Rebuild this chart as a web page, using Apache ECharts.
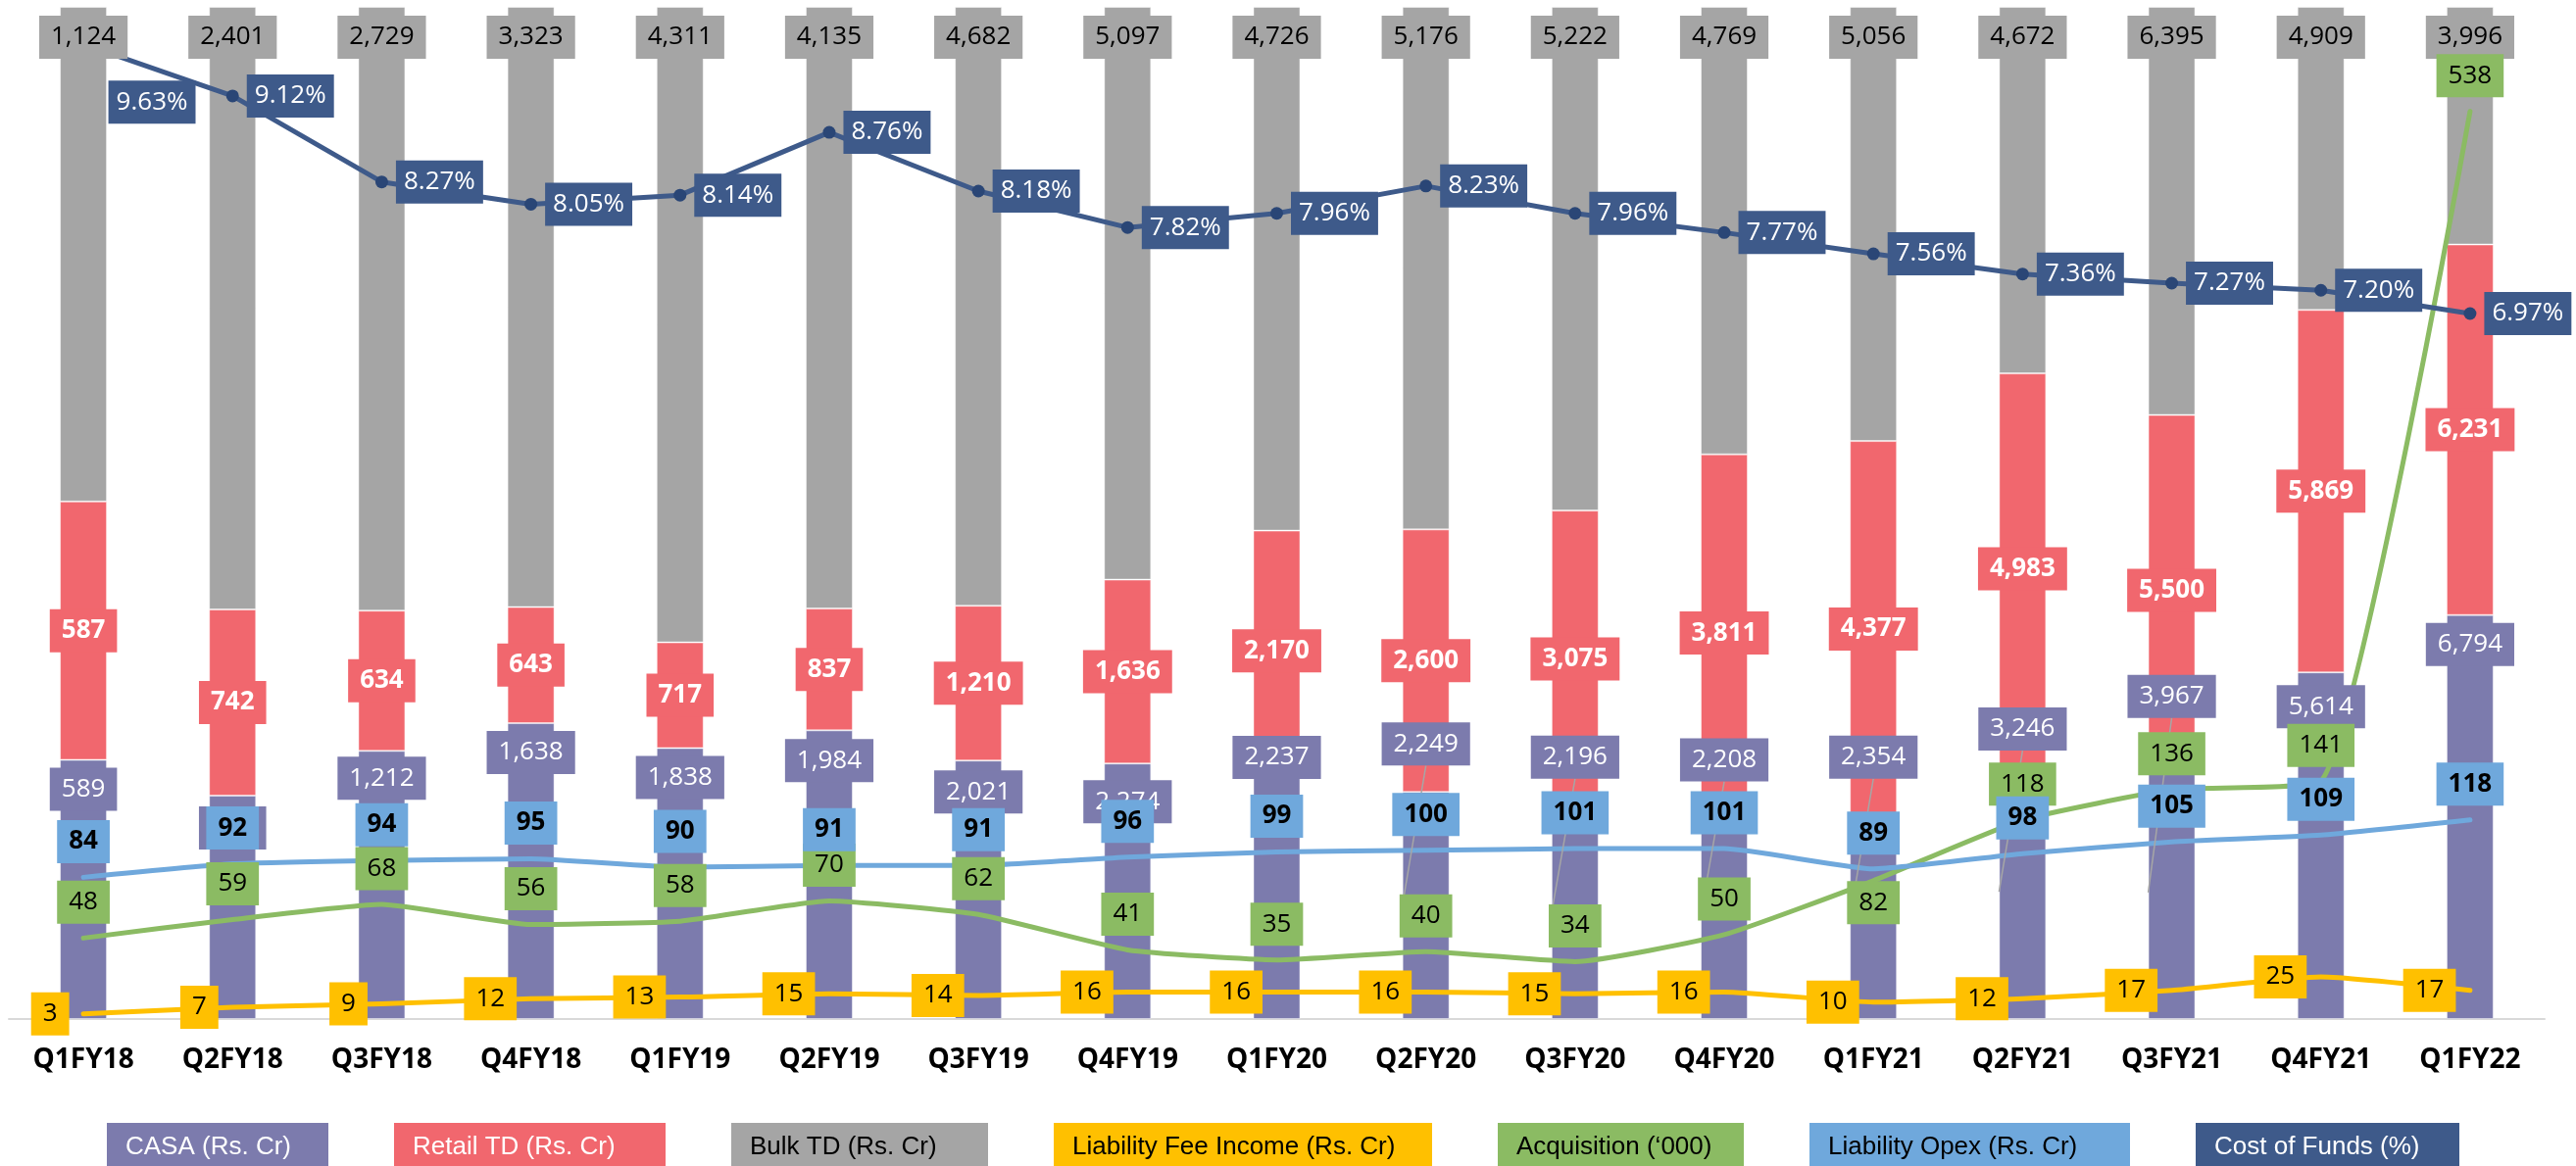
<!DOCTYPE html>
<html>
<head>
<meta charset="utf-8">
<script src="https://cdn.jsdelivr.net/npm/echarts@6/dist/echarts.min.js"></script>
<style>
  html, body { margin: 0; padding: 0; background: #fff; }
  #chart { width: 2628px; height: 1190px; }
</style>
</head>
<body>
<div id="chart"></div>
<script>
const categories = ['Q1FY18','Q2FY18','Q3FY18','Q4FY18','Q1FY19','Q2FY19','Q3FY19','Q4FY19','Q1FY20','Q2FY20','Q3FY20','Q4FY20','Q1FY21','Q2FY21','Q3FY21','Q4FY21','Q1FY22'];
const casa        = [589, 890, 1212, 1638, 1838, 1984, 2021, 2274, 2237, 2249, 2196, 2208, 2354, 3246, 3967, 5614, 6794];
const retailTD    = [587, 742, 634, 643, 717, 837, 1210, 1636, 2170, 2600, 3075, 3811, 4377, 4983, 5500, 5869, 6231];
const bulkTD      = [1124, 2401, 2729, 3323, 4311, 4135, 4682, 5097, 4726, 5176, 5222, 4769, 5056, 4672, 6395, 4909, 3996];
const feeIncome   = [3, 7, 9, 12, 13, 15, 14, 16, 16, 16, 15, 16, 10, 12, 17, 25, 17];
const acquisition = [48, 59, 68, 56, 58, 70, 62, 41, 35, 40, 34, 50, 82, 118, 136, 141, 538];
const opex        = [84, 92, 94, 95, 90, 91, 91, 96, 99, 100, 101, 101, 89, 98, 105, 109, 118];
const costOfFunds = [9.63, 9.12, 8.27, 8.05, 8.14, 8.76, 8.18, 7.82, 7.96, 8.23, 7.96, 7.77, 7.56, 7.36, 7.27, 7.20, 6.97];

const names = ['CASA (Rs. Cr)', 'Retail TD (Rs. Cr)', 'Bulk TD (Rs. Cr)', 'Liability Fee Income (Rs. Cr)', 'Acquisition (\u2018000)', 'Liability Opex (Rs. Cr)', 'Cost of Funds (%)'];

const C = {
  casa: '#7C7BAD', retail: '#F1676E', bulk: '#A5A5A5', fee: '#FFC000',
  acq: '#8BBB63', opex: '#6FA8DC', cof: '#3E5A8A', cofDot: '#2A4676'
};

const totals = categories.map((_, i) => casa[i] + retailTD[i] + bulkTD[i]);
const pct = arr => arr.map((v, i) => ({ value: v / totals[i] * 100, raw: v }));
const fmt = v => v.toLocaleString('en-US');

const FONT = 'Open Sans';
const LABEL_H = 26 + 18; // label box height (lineHeight + padding)
const baseLabel = { show: true, fontFamily: FONT, fontSize: 26, lineHeight: 26, padding: [9, 12] };

// label nudges (style only) for CASA labels that were moved in the original
const casaNudge = { 1: 3, 2: -2, 5: 1, 6: 2, 7: 9, 8: -44, 9: -79, 10: -81, 11: -83, 12: -91, 13: -66, 14: -101, 15: 5 };
const leaderIdx = [9, 10, 11, 12, 13, 14];

function barSeries(name, arr, color) {
  return {
    name, type: 'bar', stack: 'pct', yAxisIndex: 0, barWidth: 48, barGap: '-100%',
    data: pct(arr), z: 2, silent: true,
    itemStyle: { color, borderColor: 'rgba(255,255,255,0.45)', borderWidth: 1 }
  };
}
function barLabelSeries(name, arr, label, nudge) {
  const d = pct(arr).map((it, i) => {
    if (nudge && nudge[i] !== undefined) it.label = { offset: [0, nudge[i]] };
    return it;
  });
  return {
    name, type: 'bar', stack: 'lbl', yAxisIndex: 0, barWidth: 48, barGap: '-100%',
    data: d, z: 5, silent: true,
    itemStyle: { color: 'rgba(0,0,0,0)', opacity: 1 },
    label: Object.assign({}, baseLabel, label, { formatter: p => fmt(p.data.raw) })
  };
}
function lineSeries(name, arr, yIdx, color, extra) {
  return Object.assign({
    name, type: 'line', yAxisIndex: yIdx, data: arr, z: 3, silent: true,
    symbol: 'none', smooth: 0.15,
    lineStyle: { color, width: 5, cap: 'round', join: 'round' },
    itemStyle: { color }
  }, extra || {});
}
function lineLabelSeries(name, arr, yIdx, label, itemLabels, formatter) {
  const d = arr.map((v, i) => (itemLabels && itemLabels[i]) ? { value: v, label: itemLabels[i] } : v);
  return {
    name, type: 'scatter', yAxisIndex: yIdx, data: d, z: 6, silent: true,
    symbolSize: 1, itemStyle: { color: 'rgba(0,0,0,0)', opacity: 1 },
    label: Object.assign({}, baseLabel, label, { formatter: formatter || (p => fmt(p.value)) })
  };
}

const legendWidths = [226, 277, 262, 386, 251, 327, 269];
const legendBg = [C.casa, C.retail, C.bulk, C.fee, C.acq, C.opex, C.cof];
const legendFg = ['#fff', '#fff', '#000', '#000', '#000', '#000', '#fff'];

const option = {
  animation: false,
  backgroundColor: '#fff',
  textStyle: { fontFamily: FONT },
  grid: { left: 9, right: 32, top: 7, bottom: 150, containLabel: false },
  xAxis: {
    type: 'category', data: categories, boundaryGap: true,
    axisLine: { show: true, lineStyle: { color: '#D9D9D9', width: 2 } },
    axisTick: { show: false },
    axisLabel: { fontFamily: FONT, fontWeight: 'bold', fontSize: 28, color: '#000', margin: 28 }
  },
  yAxis: [
    { type: 'value', min: 0, max: 100, show: false },
    { type: 'value', min: 0, max: 600, show: false },
    { type: 'value', min: 0, max: 10, show: false }
  ],
  legend: {
    left: 99, top: 1141, itemGap: 62, itemWidth: 0, itemHeight: 0, selectedMode: false,
    data: names.map((n, i) => ({
      name: n, icon: 'none',
      textStyle: {
        fontFamily: 'Liberation Sans', fontSize: 26, lineHeight: 26,
        color: legendFg[i], backgroundColor: legendBg[i],
        padding: [11, 0, 12, 19], width: legendWidths[i] - 19
      }
    }))
  },
  series: [
    barSeries(names[0], casa, C.casa),
    barSeries(names[1], retailTD, C.retail),
    barSeries(names[2], bulkTD, C.bulk),
    lineSeries(names[3], feeIncome, 1, C.fee),
    lineSeries(names[4], acquisition, 1, C.acq),
    lineSeries(names[5], opex, 1, C.opex),
    lineSeries(names[6], costOfFunds, 2, C.cof, {
      smooth: false, symbol: 'circle', symbolSize: 13, showSymbol: true,
      lineStyle: { color: C.cof, width: 5, cap: 'round', join: 'round' },
      itemStyle: { color: C.cofDot }
    }),
    {
      name: 'casa-leaders', type: 'custom', yAxisIndex: 0, z: 4, silent: true,
      data: leaderIdx.map(i => [i, casa[i] / totals[i] * 100]),
      renderItem: (params, api) => {
        const i = api.value(0), p = api.value(1);
        const top = api.coord([i, p]);
        const mid = api.coord([i, p / 2]);
        const y0 = top[1] + 8 + LABEL_H + casaNudge[i];
        return {
          type: 'line',
          shape: { x1: top[0], y1: y0, x2: top[0] - 24, y2: mid[1] },
          style: { stroke: '#A6A6A6', lineWidth: 1.5 }
        };
      }
    },
    barLabelSeries('casa-labels', casa, { position: 'insideTop', distance: 8, color: '#fff', backgroundColor: C.casa }, casaNudge),
    barLabelSeries('retail-labels', retailTD, { position: 'inside', color: '#fff', fontWeight: 'bold', backgroundColor: C.retail }),
    barLabelSeries('bulk-labels', bulkTD, { position: 'insideTop', distance: 9, color: '#000', backgroundColor: C.bulk }),
    lineLabelSeries('fee-labels', feeIncome, 1, { position: 'left', distance: 14, color: '#000', backgroundColor: C.fee }),
    lineLabelSeries('acq-labels', acquisition, 1, { position: 'top', distance: 14, color: '#000', backgroundColor: C.acq },
      { 12: { position: 'bottom', distance: 0 } }),
    lineLabelSeries('opex-labels', opex, 1, { position: 'top', distance: 14, color: '#000', fontWeight: 'bold', backgroundColor: C.opex }),
    lineLabelSeries('cof-labels', costOfFunds, 2, { position: 'right', distance: 14, color: '#fff', backgroundColor: C.cof, padding: [9, 8] },
      { 0: { offset: [11, 59] } }, p => p.value.toFixed(2) + '%')
  ]
};

const chart = echarts.init(document.getElementById('chart'), null, { renderer: 'canvas' });
chart.setOption(option);
</script>
</body>
</html>
